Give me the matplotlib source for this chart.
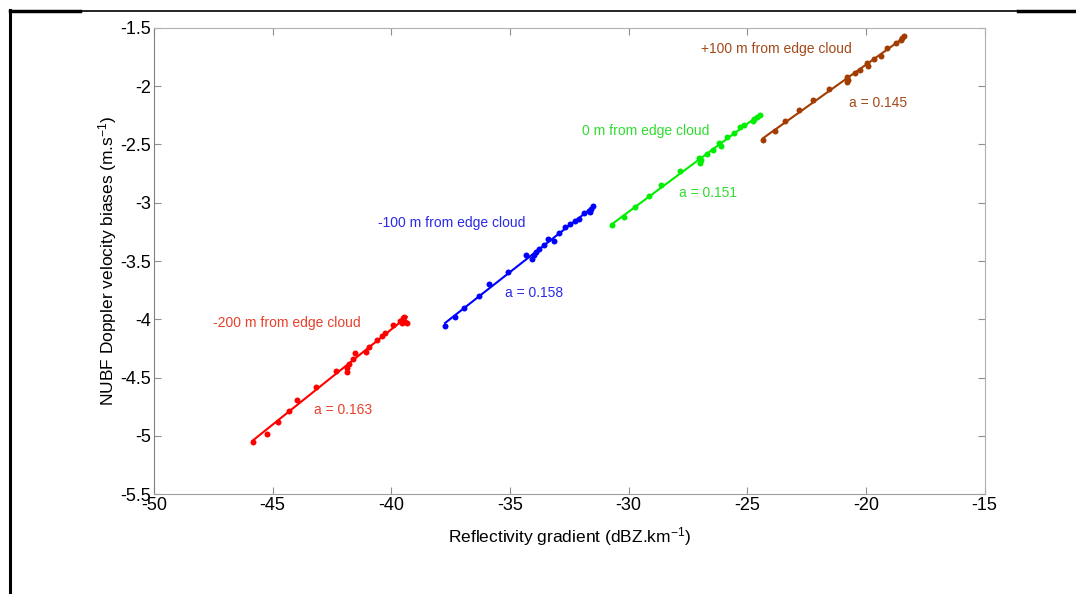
import numpy as np
import matplotlib
matplotlib.use("Agg")
import matplotlib.pyplot as plt
from matplotlib.lines import Line2D

plt.rcParams['font.family'] = ['Liberation Sans', 'DejaVu Sans']
plt.rcParams['mathtext.fontset'] = 'custom'
plt.rcParams['mathtext.rm'] = 'Liberation Sans'
plt.rcParams['mathtext.it'] = 'Liberation Sans'

# ---- DATOS ----
x_m200 = [-45.84, -45.25, -44.79, -44.31, -43.98, -43.17, -42.34, -41.88, -41.88, -41.78,
          -41.62, -41.51, -41.07, -40.92, -40.61, -40.40, -40.26, -39.91, -39.63, -39.49,
          -39.41, -39.34, -39.55, -39.45]
y_m200 = [-5.05, -4.98, -4.88, -4.79, -4.69, -4.58, -4.44, -4.45, -4.42, -4.38,
          -4.34, -4.29, -4.28, -4.24, -4.18, -4.14, -4.12, -4.05, -4.01, -3.99,
          -4.02, -4.03, -4.03, -3.98]

x_m100 = [-37.73, -37.30, -36.95, -36.32, -35.86, -35.08, -34.31, -34.07, -33.97, -33.89,
          -33.79, -33.58, -33.41, -33.13, -32.91, -32.67, -32.48, -32.24, -32.10, -31.86,
          -31.68, -31.58, -31.50, -31.63]
y_m100 = [-4.06, -3.98, -3.90, -3.80, -3.70, -3.59, -3.45, -3.48, -3.45, -3.42,
          -3.40, -3.36, -3.31, -3.33, -3.26, -3.21, -3.18, -3.16, -3.14, -3.09,
          -3.07, -3.05, -3.03, -3.08]

x_0 = [-30.70, -30.21, -29.74, -29.15, -28.62, -27.84, -27.04, -26.97, -26.96, -26.69,
       -26.44, -26.20, -26.10, -25.85, -25.57, -25.31, -25.15, -24.75, -24.58, -24.47,
       -24.70]
y_0 = [-3.19, -3.12, -3.04, -2.94, -2.85, -2.73, -2.62, -2.66, -2.63, -2.58,
       -2.55, -2.49, -2.51, -2.44, -2.40, -2.35, -2.33, -2.30, -2.26, -2.25,
       -2.28]

x_p100 = [-24.33, -23.81, -23.39, -22.80, -22.22, -21.56, -20.81, -20.79, -20.76, -20.44,
          -20.25, -19.97, -19.91, -19.66, -19.38, -19.10, -18.75, -18.54, -18.40, -18.47]
y_p100 = [-2.46, -2.38, -2.30, -2.20, -2.12, -2.02, -1.92, -1.96, -1.95, -1.89,
          -1.86, -1.80, -1.83, -1.77, -1.74, -1.67, -1.63, -1.60, -1.57, -1.59]

nombres = ["-200 m from edge cloud", "-100 m from edge cloud",
           "0 m from edge cloud", "+100 m from edge cloud"]
pendientes = ["a = 0.163", "a = 0.158", "a = 0.151", "a = 0.145"]
colores = ["#ff0000", "#0000ff", "#00ee00", "#a33c00"]
colores_txt = ["#e8402a", "#2a2ae8", "#30dd30", "#a34a1a"]

xt = [-50, -45, -40, -35, -30, -25, -20, -15]
yt = [-5.5, -5, -4.5, -4, -3.5, -3, -2.5, -2, -1.5]

series = [(x_m200, y_m200), (x_m100, y_m100), (x_0, y_0), (x_p100, y_p100)]
# posiciones de textos (coordenadas de datos)
pos_nombre = [(-47.5, -4.03), (-40.55, -3.17), (-31.95, -2.38), (-26.95, -1.68)]
pos_pend = [(-43.25, -4.78), (-35.2, -3.77), (-27.86, -2.92), (-20.69, -2.14)]

# ---- FIGURA ----
fig = plt.figure(figsize=(10.76, 5.94), dpi=100)
ax = fig.add_axes([0.143, 0.168, 0.772, 0.785])

for (xs, ys), c in zip(series, colores):
    xs = np.array(xs)
    ys = np.array(ys)
    a, b = np.polyfit(xs, ys, 1)
    xl = np.array([xs.min(), xs.max()])
    ax.plot(xl, a * xl + b, color=c, linewidth=1.5)
    ax.plot(xs, ys, 'o', color=c, markersize=4.3, markeredgewidth=0)

for (px, py), txt, c in zip(pos_nombre, nombres, colores_txt):
    ax.text(px, py, txt, color=c, fontsize=10, ha='left', va='center')
for (px, py), txt, c in zip(pos_pend, pendientes, colores_txt):
    ax.text(px, py, txt, color=c, fontsize=10, ha='left', va='center')

ax.set_xlim(-50, -15)
ax.set_ylim(-5.5, -1.5)
ax.set_xticks(xt)
ax.set_yticks(yt)
ax.set_xticklabels([f"{v:g}" for v in xt])
ax.set_yticklabels([f"{v:g}" for v in yt])
ax.tick_params(direction='in', top=True, right=True, length=5, color='#909090',
               labelsize=13, pad=2)
for s in ax.spines.values():
    s.set_color('#b0b0b0')
ax.spines['left'].set_color('#808080')
ax.spines['bottom'].set_color('#a0a0a0')

ax.set_xlabel("Reflectivity gradient (dBZ.km$^{-1}$)", fontsize=12.5, labelpad=8)
ax.set_ylabel("NUBF Doppler velocity biases (m.s$^{-1}$)", fontsize=12.5, labelpad=1)

# marco de la pagina
W, H = 1076, 594
def fx(p):
    return p / W
def fy(p):
    return 1 - p / H
fig.add_artist(Line2D([fx(10), fx(1018)], [fy(10.5), fy(10.5)], color='black', lw=1.2))
fig.add_artist(Line2D([fx(10), fx(80)], [fy(11), fy(11)], color='black', lw=2.5))
fig.add_artist(Line2D([fx(1018), fx(1076)], [fy(11), fy(11)], color='black', lw=2.5))
fig.add_artist(Line2D([fx(10), fx(10)], [fy(10), fy(594)], color='black', lw=2.2))

fig.savefig("out.png", dpi=100)
